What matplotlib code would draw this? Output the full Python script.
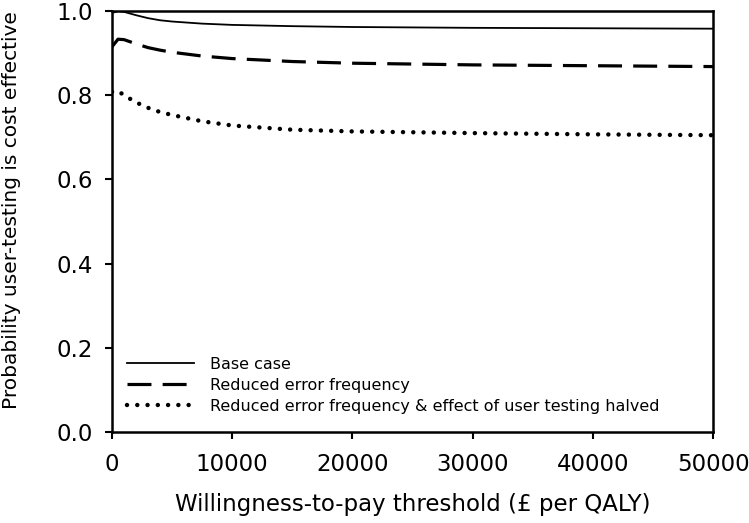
import matplotlib
matplotlib.use("Agg")
import matplotlib.pyplot as plt
import numpy as np

plt.rcParams['font.family'] = ['DejaVu Sans']

wtp = [0, 500, 1000, 2000, 3000, 4000, 5000, 7500, 10000, 15000, 20000, 30000, 40000, 50000]
base_case = [0.995, 1.0, 0.998, 0.990, 0.983, 0.978, 0.975, 0.970, 0.967, 0.964, 0.962, 0.960, 0.959, 0.958]
reduced_freq = [0.915, 0.933, 0.932, 0.922, 0.913, 0.907, 0.902, 0.893, 0.887, 0.880, 0.876, 0.872, 0.870, 0.868]
reduced_halved = [0.808, 0.810, 0.800, 0.783, 0.770, 0.760, 0.753, 0.738, 0.728, 0.718, 0.714, 0.710, 0.707, 0.705]

labels = ["Base case", "Reduced error frequency",
          "Reduced error frequency & effect of user testing halved"]
xticks = [0, 10000, 20000, 30000, 40000, 50000]
yticks = [0.0, 0.2, 0.4, 0.6, 0.8, 1.0]

fig = plt.figure(figsize=(7.49, 5.23), dpi=100)
ax = fig.add_axes([112/749, 1-432/523, (713-112)/749, (432-11)/523])

ax.plot(wtp, base_case, color='black', lw=1.3, label=labels[0])
ax.plot(wtp, reduced_freq, color='black', lw=2.3, dashes=(7.5, 3.5),
        dash_capstyle='butt', label=labels[1])
ax.plot(wtp, reduced_halved, color='black', lw=3.2, dashes=(0.01, 2.3),
        dash_capstyle='round', label=labels[2])

ax.set_xlim(0, 50000)
ax.set_ylim(0, 1.0)
ax.set_xticks(xticks)
ax.set_xticklabels([str(v) for v in xticks])
ax.set_yticks(yticks)
ax.set_yticklabels([f"{v:.1f}" for v in yticks])
ax.tick_params(direction='out', length=5, width=1.5, labelsize=16.5, colors='black')
ax.tick_params(axis='y', pad=8.5)
ax.tick_params(axis='x', pad=10)
for s in ax.spines.values():
    s.set_linewidth(1.8)

ax.set_xlabel("Willingness-to-pay threshold (£ per QALY)", fontsize=16.5, labelpad=12)
ax.set_ylabel("Probability user-testing is cost effective", fontsize=14.5)
ax.yaxis.set_label_coords(-0.151, 0.527)

ax.legend(loc='lower left', frameon=False, fontsize=11.5, handlelength=4.2,
          handletextpad=1.0, labelspacing=0.38, borderaxespad=0.0, borderpad=0.0,
          bbox_to_anchor=(15/601, 18/421))

fig.savefig("out.png", dpi=100)
